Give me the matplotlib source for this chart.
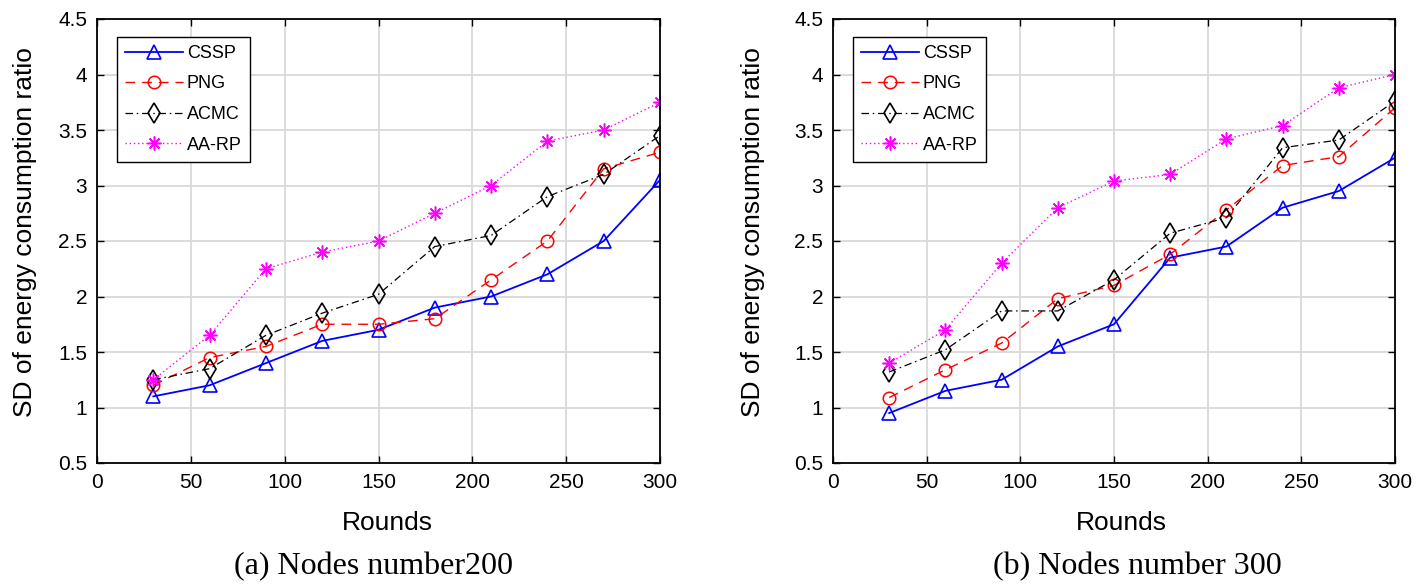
import matplotlib
matplotlib.use("Agg")
import matplotlib.pyplot as plt

rounds = [30, 60, 90, 120, 150, 180, 210, 240, 270, 300]

# (a) Nodes number 200
cssp_200 = [1.10, 1.20, 1.40, 1.60, 1.70, 1.90, 2.00, 2.20, 2.50, 3.05]
png_200 = [1.20, 1.45, 1.55, 1.75, 1.75, 1.80, 2.15, 2.50, 3.15, 3.30]
acmc_200 = [1.25, 1.35, 1.65, 1.85, 2.02, 2.45, 2.55, 2.90, 3.10, 3.45]
aarp_200 = [1.25, 1.65, 2.25, 2.40, 2.50, 2.75, 3.00, 3.40, 3.50, 3.75]

# (b) Nodes number 300
cssp_300 = [0.95, 1.15, 1.25, 1.55, 1.75, 2.35, 2.45, 2.80, 2.95, 3.25]
png_300 = [1.09, 1.34, 1.58, 1.98, 2.10, 2.38, 2.78, 3.18, 3.26, 3.70]
acmc_300 = [1.32, 1.52, 1.87, 1.87, 2.15, 2.57, 2.71, 3.34, 3.41, 3.76]
aarp_300 = [1.40, 1.70, 2.30, 2.80, 3.04, 3.10, 3.42, 3.54, 3.88, 4.00]

series_names = ["CSSP", "PNG", "ACMC", "AA-RP"]
x_ticks = [0, 50, 100, 150, 200, 250, 300]
y_ticks = [0.5, 1, 1.5, 2, 2.5, 3, 3.5, 4, 4.5]
y_tick_labels = ["0.5", "1", "1.5", "2", "2.5", "3", "3.5", "4", "4.5"]
captions = ["(a) Nodes number200", "(b) Nodes number 300"]
x_label = "Rounds"
y_label = "SD of energy consumption ratio"

plt.rcParams["font.family"] = ["Liberation Sans", "DejaVu Sans"]

styles = [
    dict(color="#0000ff", linestyle="-", linewidth=1.3, marker="^", markersize=10,
         markerfacecolor="none", markeredgewidth=1.2),
    dict(color="#ff0000", linestyle=(0, (7, 5)), linewidth=1.0, marker="o", markersize=9,
         markerfacecolor="none", markeredgewidth=1.1),
    dict(color="#000000", linestyle=(0, (6, 3, 1.2, 3)), linewidth=0.9, marker="d", markersize=10,
         markerfacecolor="none", markeredgewidth=1.2),
    dict(color="#ff00ff", linestyle=(0, (1, 2)), linewidth=1.0, marker=(8, 2, 0), markersize=10,
         markeredgewidth=1.1),
]

fig = plt.figure(figsize=(14.16, 5.85), dpi=100)
ax_a = fig.add_axes([97 / 1416, 1 - 463 / 585, 563 / 1416, 444 / 585])
ax_b = fig.add_axes([833 / 1416, 1 - 463 / 585, 562 / 1416, 444 / 585])

datasets = [
    (ax_a, [cssp_200, png_200, acmc_200, aarp_200], -0.107, 0.515, captions[0], 373),
    (ax_b, [cssp_300, png_300, acmc_300, aarp_300], -0.121, 0.514, captions[1], 1137),
]

for ax, data, ylx, xlx, cap, capx in datasets:
    for name, vals, st in zip(series_names, data, styles):
        ax.plot(rounds, vals, label=name, **st)
    ax.set_xlim(0, 300)
    ax.set_ylim(0.5, 4.5)
    ax.set_xticks(x_ticks)
    ax.set_yticks(y_ticks)
    ax.set_yticklabels(y_tick_labels)
    ax.grid(True, color="#d9d9d9", linewidth=1.3)
    ax.set_axisbelow(True)
    ax.tick_params(direction="in", length=5, width=1.0, top=True, right=True,
                   labelsize=15, pad=7, colors="black")
    for sp in ax.spines.values():
        sp.set_linewidth(1.3)
        sp.set_color("black")
    ax.set_xlabel(x_label, fontsize=19)
    ax.xaxis.set_label_coords(xlx, -0.108)
    ax.set_ylabel(y_label, fontsize=19)
    ax.yaxis.set_label_coords(ylx, 0.52)
    leg = ax.legend(loc="upper left", bbox_to_anchor=(0.036, 0.96), borderaxespad=0,
                    fontsize=13, handlelength=3.2, handletextpad=0.2, labelspacing=0.75,
                    fancybox=False, framealpha=1, edgecolor="black", borderpad=0.45)
    leg.get_frame().set_linewidth(1.0)
    fig.text(capx / 1416, 1 - 567 / 585, cap, ha="center", va="center",
             fontsize=23, family="Liberation Serif")

fig.savefig("out.png", dpi=100)
